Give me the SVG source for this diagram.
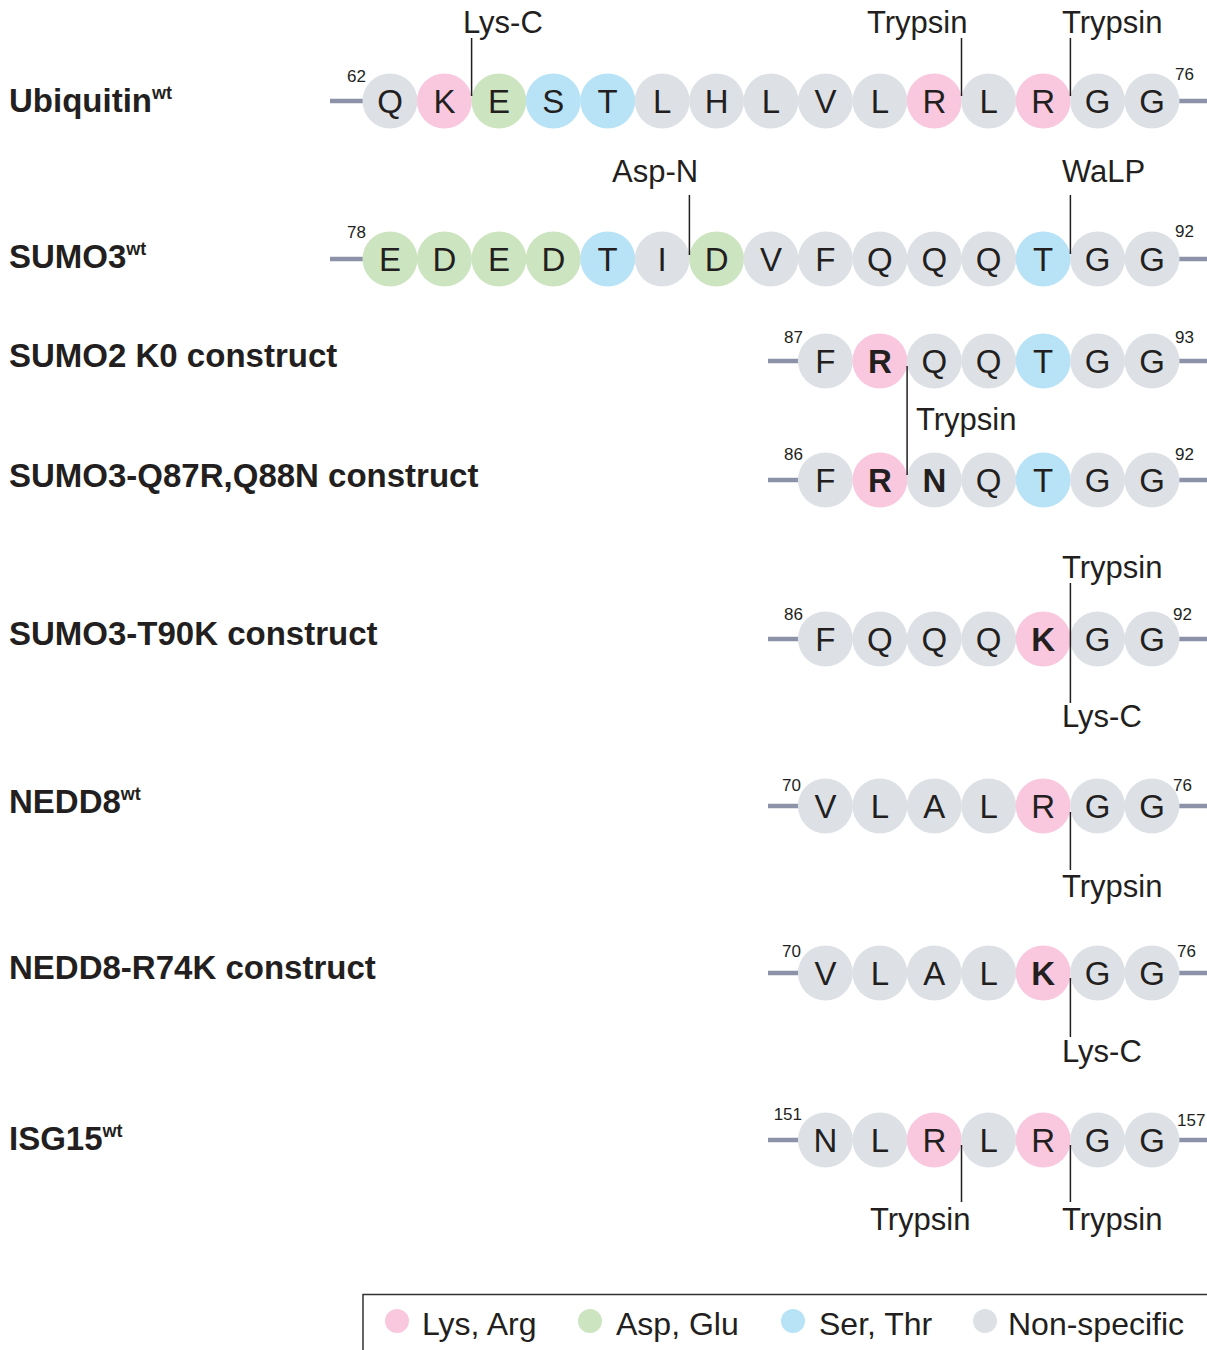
<svg xmlns="http://www.w3.org/2000/svg" width="1207" height="1350" viewBox="0 0 1207 1350">
<style>
text{font-family:"Liberation Sans",Arial,sans-serif;fill:#231f20}
.lbl{font-size:33px;font-weight:bold}
.sup{font-size:18px;font-weight:bold}
.aa{font-size:33px;text-anchor:middle}
.b{font-weight:bold}
.num{font-size:17px}
.end{text-anchor:end}
.enz{font-size:31px}
.leg{font-size:32px}
.bar{stroke:#8c93a8;stroke-width:4.5;fill:none}
.cut{stroke:#231f20;stroke-width:1.5;fill:none}
.g{fill:#dde1e6}.p{fill:#f9c8df}.gr{fill:#cde4c1}.bl{fill:#b8e3f6}
</style>
<rect width="1207" height="1350" fill="#ffffff"/>

<!-- Ubiquitin -->
<g id="ubiquitin">
<text class="lbl" x="9" y="112">Ubiquitin<tspan class="sup" dy="-13">wt</tspan></text>
<path class="bar" d="M330,101H365M1178,101H1207"/>
<text class="num end" x="366" y="82">62</text>
<text class="num" x="1175" y="80">76</text>
<g transform="translate(0,101)">
<circle class="g" cx="390" r="27.5"/><circle class="p" cx="444.4" r="27.5"/><circle class="gr" cx="498.9" r="27.5"/><circle class="bl" cx="553.3" r="27.5"/><circle class="bl" cx="607.7" r="27.5"/><circle class="g" cx="662.2" r="27.5"/><circle class="g" cx="716.6" r="27.5"/><circle class="g" cx="771" r="27.5"/><circle class="g" cx="825.4" r="27.5"/><circle class="g" cx="879.9" r="27.5"/><circle class="p" cx="934.3" r="27.5"/><circle class="g" cx="988.7" r="27.5"/><circle class="p" cx="1043.2" r="27.5"/><circle class="g" cx="1097.6" r="27.5"/><circle class="g" cx="1152" r="27.5"/>
<g class="aa"><text class="aa" x="390" y="12">Q</text><text class="aa" x="444.4" y="12">K</text><text class="aa" x="498.9" y="12">E</text><text class="aa" x="553.3" y="12">S</text><text class="aa" x="607.7" y="12">T</text><text class="aa" x="662.2" y="12">L</text><text class="aa" x="716.6" y="12">H</text><text class="aa" x="771" y="12">L</text><text class="aa" x="825.4" y="12">V</text><text class="aa" x="879.9" y="12">L</text><text class="aa" x="934.3" y="12">R</text><text class="aa" x="988.7" y="12">L</text><text class="aa" x="1043.2" y="12">R</text><text class="aa" x="1097.6" y="12">G</text><text class="aa" x="1152" y="12">G</text></g>
</g>
</g>

<!-- SUMO3 wt -->
<g id="sumo3wt">
<text class="lbl" x="9" y="268">SUMO3<tspan class="sup" dy="-13">wt</tspan></text>
<path class="bar" d="M330,259H365M1178,259H1207"/>
<text class="num end" x="366" y="238">78</text>
<text class="num" x="1175" y="237">92</text>
<g transform="translate(0,259)">
<circle class="gr" cx="390" r="27.5"/><circle class="gr" cx="444.4" r="27.5"/><circle class="gr" cx="498.9" r="27.5"/><circle class="gr" cx="553.3" r="27.5"/><circle class="bl" cx="607.7" r="27.5"/><circle class="g" cx="662.2" r="27.5"/><circle class="gr" cx="716.6" r="27.5"/><circle class="g" cx="771" r="27.5"/><circle class="g" cx="825.4" r="27.5"/><circle class="g" cx="879.9" r="27.5"/><circle class="g" cx="934.3" r="27.5"/><circle class="g" cx="988.7" r="27.5"/><circle class="bl" cx="1043.2" r="27.5"/><circle class="g" cx="1097.6" r="27.5"/><circle class="g" cx="1152" r="27.5"/>
<text class="aa" x="390" y="12">E</text><text class="aa" x="444.4" y="12">D</text><text class="aa" x="498.9" y="12">E</text><text class="aa" x="553.3" y="12">D</text><text class="aa" x="607.7" y="12">T</text><text class="aa" x="662.2" y="12">I</text><text class="aa" x="716.6" y="12">D</text><text class="aa" x="771" y="12">V</text><text class="aa" x="825.4" y="12">F</text><text class="aa" x="879.9" y="12">Q</text><text class="aa" x="934.3" y="12">Q</text><text class="aa" x="988.7" y="12">Q</text><text class="aa" x="1043.2" y="12">T</text><text class="aa" x="1097.6" y="12">G</text><text class="aa" x="1152" y="12">G</text>
</g>
</g>

<!-- SUMO2 K0 -->
<g id="sumo2k0">
<text class="lbl" x="9" y="367">SUMO2 K0 construct</text>
<path class="bar" d="M768,361H800M1178,361H1207"/>
<text class="num end" x="803" y="343">87</text>
<text class="num" x="1175" y="343">93</text>
<g transform="translate(0,361)">
<circle class="g" cx="825.4" r="27.5"/><circle class="p" cx="879.9" r="27.5"/><circle class="g" cx="934.3" r="27.5"/><circle class="g" cx="988.7" r="27.5"/><circle class="bl" cx="1043.2" r="27.5"/><circle class="g" cx="1097.6" r="27.5"/><circle class="g" cx="1152" r="27.5"/>
<text class="aa" x="825.4" y="12">F</text><text class="aa b" x="879.9" y="12">R</text><text class="aa" x="934.3" y="12">Q</text><text class="aa" x="988.7" y="12">Q</text><text class="aa" x="1043.2" y="12">T</text><text class="aa" x="1097.6" y="12">G</text><text class="aa" x="1152" y="12">G</text>
</g>
</g>

<!-- SUMO3-Q87R,Q88N -->
<g id="sumo3q87r">
<text class="lbl" x="9" y="487">SUMO3-Q87R,Q88N construct</text>
<path class="bar" d="M768,480H800M1178,480H1207"/>
<text class="num end" x="803" y="460">86</text>
<text class="num" x="1175" y="460">92</text>
<g transform="translate(0,480)">
<circle class="g" cx="825.4" r="27.5"/><circle class="p" cx="879.9" r="27.5"/><circle class="g" cx="934.3" r="27.5"/><circle class="g" cx="988.7" r="27.5"/><circle class="bl" cx="1043.2" r="27.5"/><circle class="g" cx="1097.6" r="27.5"/><circle class="g" cx="1152" r="27.5"/>
<text class="aa" x="825.4" y="12">F</text><text class="aa b" x="879.9" y="12">R</text><text class="aa b" x="934.3" y="12">N</text><text class="aa" x="988.7" y="12">Q</text><text class="aa" x="1043.2" y="12">T</text><text class="aa" x="1097.6" y="12">G</text><text class="aa" x="1152" y="12">G</text>
</g>
</g>

<!-- SUMO3-T90K -->
<g id="sumo3t90k">
<text class="lbl" x="9" y="645">SUMO3-T90K construct</text>
<path class="bar" d="M768,639H800M1178,639H1207"/>
<text class="num end" x="803" y="620">86</text>
<text class="num" x="1173" y="620">92</text>
<g transform="translate(0,639)">
<circle class="g" cx="825.4" r="27.5"/><circle class="g" cx="879.9" r="27.5"/><circle class="g" cx="934.3" r="27.5"/><circle class="g" cx="988.7" r="27.5"/><circle class="p" cx="1043.2" r="27.5"/><circle class="g" cx="1097.6" r="27.5"/><circle class="g" cx="1152" r="27.5"/>
<text class="aa" x="825.4" y="12">F</text><text class="aa" x="879.9" y="12">Q</text><text class="aa" x="934.3" y="12">Q</text><text class="aa" x="988.7" y="12">Q</text><text class="aa b" x="1043.2" y="12">K</text><text class="aa" x="1097.6" y="12">G</text><text class="aa" x="1152" y="12">G</text>
</g>
</g>

<!-- NEDD8 wt -->
<g id="nedd8wt">
<text class="lbl" x="9" y="813">NEDD8<tspan class="sup" dy="-13">wt</tspan></text>
<path class="bar" d="M768,806H800M1178,806H1207"/>
<text class="num end" x="801" y="791">70</text>
<text class="num" x="1173" y="791">76</text>
<g transform="translate(0,806)">
<circle class="g" cx="825.4" r="27.5"/><circle class="g" cx="879.9" r="27.5"/><circle class="g" cx="934.3" r="27.5"/><circle class="g" cx="988.7" r="27.5"/><circle class="p" cx="1043.2" r="27.5"/><circle class="g" cx="1097.6" r="27.5"/><circle class="g" cx="1152" r="27.5"/>
<text class="aa" x="825.4" y="12">V</text><text class="aa" x="879.9" y="12">L</text><text class="aa" x="934.3" y="12">A</text><text class="aa" x="988.7" y="12">L</text><text class="aa" x="1043.2" y="12">R</text><text class="aa" x="1097.6" y="12">G</text><text class="aa" x="1152" y="12">G</text>
</g>
</g>

<!-- NEDD8-R74K -->
<g id="nedd8r74k">
<text class="lbl" x="9" y="979">NEDD8-R74K construct</text>
<path class="bar" d="M768,973H800M1178,973H1207"/>
<text class="num end" x="801" y="957">70</text>
<text class="num" x="1177" y="957">76</text>
<g transform="translate(0,973)">
<circle class="g" cx="825.4" r="27.5"/><circle class="g" cx="879.9" r="27.5"/><circle class="g" cx="934.3" r="27.5"/><circle class="g" cx="988.7" r="27.5"/><circle class="p" cx="1043.2" r="27.5"/><circle class="g" cx="1097.6" r="27.5"/><circle class="g" cx="1152" r="27.5"/>
<text class="aa" x="825.4" y="12">V</text><text class="aa" x="879.9" y="12">L</text><text class="aa" x="934.3" y="12">A</text><text class="aa" x="988.7" y="12">L</text><text class="aa b" x="1043.2" y="12">K</text><text class="aa" x="1097.6" y="12">G</text><text class="aa" x="1152" y="12">G</text>
</g>
</g>

<!-- ISG15 wt -->
<g id="isg15wt">
<text class="lbl" x="9" y="1150">ISG15<tspan class="sup" dy="-13">wt</tspan></text>
<path class="bar" d="M768,1140H800M1178,1140H1207"/>
<text class="num end" x="802" y="1120">151</text>
<text class="num" x="1177" y="1126">157</text>
<g transform="translate(0,1140)">
<circle class="g" cx="825.4" r="27.5"/><circle class="g" cx="879.9" r="27.5"/><circle class="p" cx="934.3" r="27.5"/><circle class="g" cx="988.7" r="27.5"/><circle class="p" cx="1043.2" r="27.5"/><circle class="g" cx="1097.6" r="27.5"/><circle class="g" cx="1152" r="27.5"/>
<text class="aa" x="825.4" y="12">N</text><text class="aa" x="879.9" y="12">L</text><text class="aa" x="934.3" y="12">R</text><text class="aa" x="988.7" y="12">L</text><text class="aa" x="1043.2" y="12">R</text><text class="aa" x="1097.6" y="12">G</text><text class="aa" x="1152" y="12">G</text>
</g>
</g>

<!-- cleavage sites -->
<g id="connectors">
<path class="cut" d="M471.6,38V96M961.5,38V96M1070.4,38V96M689.4,195V255M1070.4,195V254M907.1,366V475M1070.4,583V703M1070.4,812V870M1070.4,978V1037M961.5,1145V1202M1070.4,1145V1202"/>
<text class="enz" x="463" y="33">Lys-C</text>
<text class="enz" x="867" y="33">Trypsin</text>
<text class="enz" x="1062" y="33">Trypsin</text>
<text class="enz" x="612" y="182">Asp-N</text>
<text class="enz" x="1062" y="182">WaLP</text>
<text class="enz" x="916" y="430">Trypsin</text>
<text class="enz" x="1062" y="578">Trypsin</text>
<text class="enz" x="1062" y="727">Lys-C</text>
<text class="enz" x="1062" y="897">Trypsin</text>
<text class="enz" x="1062" y="1062">Lys-C</text>
<text class="enz" x="870" y="1230">Trypsin</text>
<text class="enz" x="1062" y="1230">Trypsin</text>
</g>

<!-- legend -->
<g id="legend">
<path d="M363,1350V1294.5H1207" stroke="#333" stroke-width="1.5" fill="none"/>
<circle class="p" cx="397" cy="1321" r="12"/>
<text class="leg" x="422" y="1335">Lys, Arg</text>
<circle class="gr" cx="590" cy="1321" r="12"/>
<text class="leg" x="616" y="1335">Asp, Glu</text>
<circle class="bl" cx="793" cy="1321" r="12"/>
<text class="leg" x="819" y="1335">Ser, Thr</text>
<circle class="g" cx="985" cy="1321" r="12"/>
<text class="leg" x="1008" y="1335">Non-specific</text>
</g>
</svg>
